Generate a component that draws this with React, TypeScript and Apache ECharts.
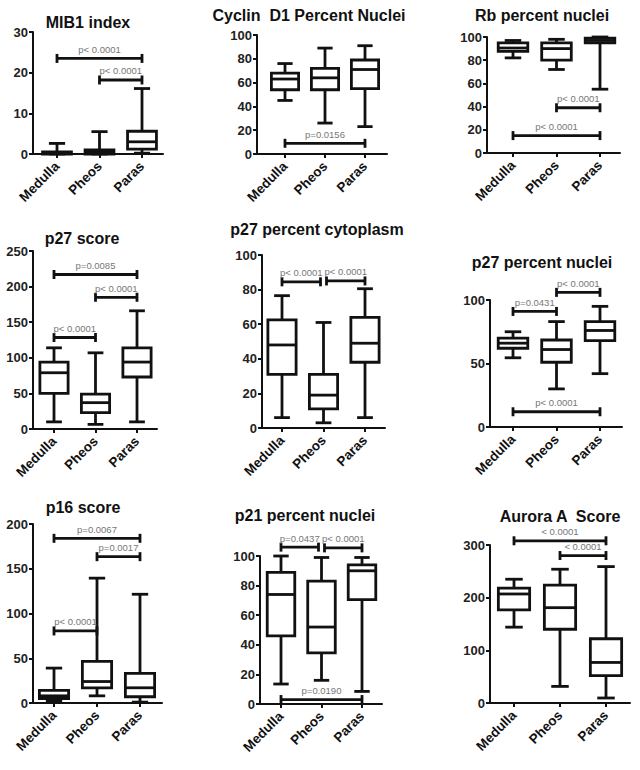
import React, { useEffect, useRef } from 'react';
import * as echarts from 'echarts';

const categories = ['Medulla', 'Pheos', 'Paras'];

// Each box: [min, Q1, median, Q3, max] for Medulla, Pheos, Paras
const mib1Boxes = [[0, 0, 0.2, 0.5, 2.6], [0, 0, 0.5, 1.0, 5.5], [0.2, 1.2, 3.0, 5.6, 16.1]];
const mib1Brackets = [[0, 2, 23.5], [1, 2, 18.2]];
const mib1Labels = ['p< 0.0001', 'p< 0.0001'];

const cyclinBoxes = [[45, 54, 63, 68, 76], [26, 54, 64, 72, 89], [23, 55, 71, 79, 91]];
const cyclinBrackets = [[0, 2, 9]];
const cyclinLabels = ['p=0.0156'];

const rbBoxes = [[82, 87.6, 90.5, 95, 97], [72, 80, 90, 95, 98], [55, 95, 97, 99, 100]];
const rbBrackets = [[1, 2, 39], [0, 2, 15]];
const rbLabels = ['p< 0.0001', 'p< 0.0001'];

const p27ScoreBoxes = [[10, 50, 79, 94, 114], [6.5, 23, 37, 49, 107], [10, 73, 94, 114, 166]];
const p27ScoreBrackets = [[0, 2, 217], [1, 2, 185], [0, 1, 128.5]];
const p27ScoreLabels = ['p=0.0085', 'p< 0.0001', 'p< 0.0001'];

const p27CytoBoxes = [[6, 31, 48, 62.5, 76.5], [3, 11, 19, 31, 61], [6, 38, 49, 64, 80.5]];
const p27CytoBrackets = [[0, 1, 84.5], [1, 2, 85]];
const p27CytoLabels = ['p< 0.0001', 'p< 0.0001'];

const p27NucBoxes = [[54.5, 62, 66, 70, 75], [30, 51, 61, 68.5, 83], [42, 68, 76, 83, 95]];
const p27NucBrackets = [[0, 1, 91], [1, 2, 106], [0, 2, 12]];
const p27NucLabels = ['p=0.0431', 'p< 0.0001', 'p< 0.0001'];

const p16Boxes = [[2, 5, 8, 14, 39], [8, 17, 24, 46.5, 139.5], [1, 7, 17, 33, 121.5]];
const p16Brackets = [[0, 2, 184], [1, 2, 163.5], [0, 1, 80.5]];
const p16Labels = ['p=0.0067', 'p=0.0017', 'p< 0.0001'];

const p21Boxes = [[13.5, 46, 74, 89, 100], [16, 34.5, 52, 83, 99], [8.5, 70.5, 90, 94, 99]];
const p21Brackets = [[0, 1, 106], [1, 2, 105.5], [0, 2, 3]];
const p21Labels = ['p=0.0437', 'p< 0.0001', 'p=0.0190'];

const auroraBoxes = [[144, 177, 207, 218, 235], [31.5, 140, 181, 224, 254], [9.5, 52, 77, 122, 259]];
const auroraBrackets = [[0, 2, 308], [1, 2, 280]];
const auroraLabels = ['< 0.0001', '< 0.0001'];

const titles = [
  'MIB1 index', 'Cyclin  D1 Percent Nuclei', 'Rb percent nuclei',
  'p27 score', 'p27 percent cytoplasm', 'p27 percent nuclei',
  'p16 score', 'p21 percent nuclei', 'Aurora A  Score',
];
const yMaxes = [30, 100, 100, 250, 100, 100, 200, 100, 300];
const yIntervals = [10, 20, 20, 50, 20, 50, 50, 20, 100];

const panelsData = [
  [mib1Boxes, mib1Brackets, mib1Labels],
  [cyclinBoxes, cyclinBrackets, cyclinLabels],
  [rbBoxes, rbBrackets, rbLabels],
  [p27ScoreBoxes, p27ScoreBrackets, p27ScoreLabels],
  [p27CytoBoxes, p27CytoBrackets, p27CytoLabels],
  [p27NucBoxes, p27NucBrackets, p27NucLabels],
  [p16Boxes, p16Brackets, p16Labels],
  [p21Boxes, p21Brackets, p21Labels],
  [auroraBoxes, auroraBrackets, auroraLabels],
];

// layout: [axisLeft, axisRight, top, bottom, firstCenter, lastCenter]
const layouts = [
  [33, 163, 32, 154, 57, 142],
  [257, 387, 35, 154, 285, 365],
  [487, 620, 37, 153, 513, 600],
  [33, 157, 251, 429, 54, 137],
  [262, 385, 255, 428, 282, 365],
  [490, 622, 300, 427, 513, 600],
  [33, 162, 524, 703, 54, 140],
  [260, 382, 556, 704, 281, 362],
  [490, 630, 545, 703, 514, 606],
];
const titlePos = [
  [88, 22], [309, 15], [542, 15],
  [82, 238], [317, 229], [542, 262],
  [83, 507], [305, 515], [560, 516],
];

const FONT = '"Liberation Sans", Arial, sans-serif';
const INK = '#111';

export default function App() {
  const ref = useRef<HTMLDivElement>(null);
  useEffect(() => {
    if (!ref.current) return;
    const chart = echarts.init(ref.current, null, { renderer: 'svg' });
    const grid: any[] = [];
    const xAxis: any[] = [];
    const yAxis: any[] = [];
    const series: any[] = [];
    const graphic: any[] = [];

    panelsData.forEach((pd, i) => {
      const [boxes, brackets, labels] = pd as [number[][], number[][], string[]];
      const [L, R, T, B, c1, c3] = layouts[i];
      const u = (c3 - c1) / 2;
      const xmin = 1 - (c1 - L) / u;
      const xmax = 3 + (R - c3) / u;
      grid.push({ left: L, top: T, width: R - L, height: B - T, containLabel: false });
      xAxis.push({
        gridIndex: i, type: 'value', min: xmin, max: xmax,
        axisLine: { show: true, onZero: false, lineStyle: { color: INK, width: 2 } },
        axisTick: { show: true, customValues: [1, 2, 3], length: 4, lineStyle: { color: INK, width: 2 } },
        axisLabel: {
          customValues: [1, 2, 3], formatter: (v: number) => categories[Math.round(v) - 1] || '',
          rotate: 45, fontWeight: 'bold', fontSize: 13.5, color: INK, fontFamily: FONT, margin: 10,
        },
        splitLine: { show: false },
      });
      yAxis.push({
        gridIndex: i, type: 'value', min: 0, max: yMaxes[i], interval: yIntervals[i],
        axisLine: { show: true, lineStyle: { color: INK, width: 2 } },
        axisTick: { show: true, length: 4, lineStyle: { color: INK, width: 2 } },
        axisLabel: { fontWeight: 'bold', fontSize: 13, color: '#222', fontFamily: FONT, margin: 5 },
        splitLine: { show: false },
      });
      series.push({
        type: 'custom', xAxisIndex: i, yAxisIndex: i, clip: false,
        data: boxes.map((b, k) => [k + 1, ...b]),
        encode: { x: 0, y: [1, 5] },
        renderItem: (params: any, api: any) => {
          const x = api.value(0);
          const pMin = api.coord([x, api.value(1)]);
          const pQ1 = api.coord([x, api.value(2)]);
          const pMed = api.coord([x, api.value(3)]);
          const pQ3 = api.coord([x, api.value(4)]);
          const pMax = api.coord([x, api.value(5)]);
          const unit = api.size([1, 0])[0];
          const half = unit * 0.34;
          const cap = unit * 0.19;
          const cx = pMin[0];
          const st = { stroke: INK, lineWidth: 2.8, fill: 'none' };
          return {
            type: 'group',
            children: [
              { type: 'line', shape: { x1: cx, y1: pMin[1], x2: cx, y2: pQ1[1] }, style: st },
              { type: 'line', shape: { x1: cx, y1: pQ3[1], x2: cx, y2: pMax[1] }, style: st },
              { type: 'line', shape: { x1: cx - cap, y1: pMin[1], x2: cx + cap, y2: pMin[1] }, style: st },
              { type: 'line', shape: { x1: cx - cap, y1: pMax[1], x2: cx + cap, y2: pMax[1] }, style: st },
              { type: 'rect', shape: { x: cx - half, y: pQ3[1], width: half * 2, height: pQ1[1] - pQ3[1] }, style: { stroke: INK, lineWidth: 2.8, fill: '#fff' } },
              { type: 'line', shape: { x1: cx - half, y1: pMed[1], x2: cx + half, y2: pMed[1] }, style: st },
            ],
          };
        },
      });
      series.push({
        type: 'custom', xAxisIndex: i, yAxisIndex: i, clip: false,
        data: brackets.map((b) => [b[0] + 1, b[1] + 1, b[2]]),
        encode: { x: [0, 1], y: 2 },
        renderItem: (params: any, api: any) => {
          const idx = params.dataIndex;
          const a = api.value(0);
          const b = api.value(1);
          const y = api.value(2);
          const p1 = api.coord([a, y]);
          const p2 = api.coord([b, y]);
          let x1 = p1[0];
          let x2 = p2[0];
          const tol = yMaxes[i] * 0.05;
          brackets.forEach((o, j) => {
            if (j === idx || Math.abs(o[2] - y) > tol) return;
            if (o[0] + 1 === b) x2 -= 3;
            if (o[1] + 1 === a) x1 += 3;
          });
          const yy = p1[1];
          const st = { stroke: INK, lineWidth: 2.8 };
          return {
            type: 'group',
            children: [
              { type: 'line', shape: { x1, y1: yy, x2, y2: yy }, style: st },
              { type: 'line', shape: { x1, y1: yy - 4.5, x2: x1, y2: yy + 4.5 }, style: st },
              { type: 'line', shape: { x1: x2, y1: yy - 4.5, x2, y2: yy + 4.5 }, style: st },
              {
                type: 'text',
                style: {
                  text: labels[idx], x: (x1 + x2) / 2, y: yy - 4,
                  align: 'center', verticalAlign: 'bottom', textAlign: 'center', textVerticalAlign: 'bottom',
                  fill: '#777', fontSize: 9.5, fontFamily: FONT,
                },
              },
            ],
          };
        },
      });
      graphic.push({
        type: 'text', x: titlePos[i][0], y: titlePos[i][1],
        style: {
          text: titles[i], fill: INK, fontSize: 16, fontWeight: 'bold', fontFamily: FONT,
          align: 'center', verticalAlign: 'middle', textAlign: 'center', textVerticalAlign: 'middle',
        },
      });
    });

    chart.setOption({
      animation: false,
      backgroundColor: '#fff',
      grid, xAxis, yAxis, series, graphic,
    });
    return () => chart.dispose();
  }, []);
  return <div ref={ref} style={{ position: 'fixed', left: 0, top: 0, width: 640, height: 770 }} />;
}
